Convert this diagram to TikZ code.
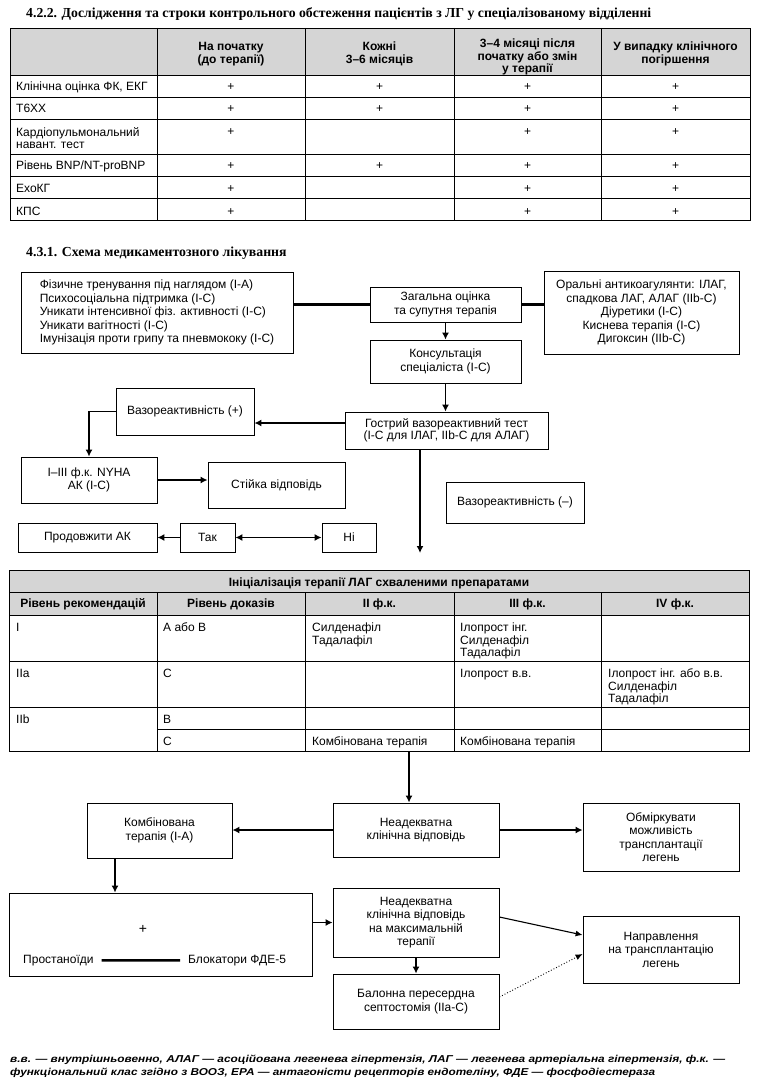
\documentclass[tikz,border=0pt]{standalone}
\usepackage{graphicx}
\usepackage{fontspec}
\setmainfont{Liberation Sans}
\newfontfamily\titlefont{Liberation Serif}
\usetikzlibrary{arrows.meta,calc}

\tikzset{
  tbl/.style={line width=0.8pt},
  hdr/.style={fill=gray!33},
  box/.style={draw, line width=0.8pt, align=center, inner sep=0pt,
    font=\fontsize{12}{13.5}\selectfont},
  cell/.style={inner sep=0pt, font=\fontsize{12}{12}\selectfont},
  hcell/.style={inner sep=0pt, font=\bfseries\fontsize{12}{12}\selectfont},
  ttl/.style={inner sep=0pt, anchor=base west, font=\titlefont\bfseries\fontsize{13.75}{16}\selectfont},
  arr/.style={line width=1.6pt, -{Latex[length=7pt,width=7pt]}},
  thinarr/.style={line width=1.1pt, -{Latex[length=7pt,width=6pt]}},
  dotarr/.style={line width=0.9pt, dotted, -{Latex[length=7pt,width=6pt]}},
  thickline/.style={line width=2.4pt},
  foot/.style={inner sep=0pt, anchor=base west, font=\bfseries\itshape\fontsize{10}{12}\selectfont},
}

\begin{document}
\begin{tikzpicture}[x=1pt,y=-1pt]
\useasboundingbox (0,0) rectangle (756,1086);

% ---------- Title 1 ----------
\node[ttl] (t1) at (26,17.3) {4.2.2. Дослідження та строки контрольного обстеження пацієнтів з ЛГ у спеціалізованому відділенні};

% ---------- Table 1 ----------
\fill[hdr] (10,28) rectangle (750,75);
\draw[tbl] (10,28) rectangle (750,220);
\foreach \y in {75,97,119,154,176,198} \draw[tbl] (10,\y) -- (750,\y);
\foreach \x in {157,305,454,601} \draw[tbl] (\x,28) -- (\x,220);

\node[hcell, anchor=north, align=center, font=\bfseries\fontsize{12}{13}\selectfont] (h1) at (231,40.9) {\strut На початку\\(до терапії)};
\node[hcell, anchor=north, align=center, font=\bfseries\fontsize{12}{13}\selectfont] (h2) at (379.5,40.9) {\strut Кожні\\3–6 місяців};
\node[hcell, anchor=north, align=center, font=\bfseries\fontsize{12}{11}\selectfont] (h3) at (527.5,38.3) {\strut 3–4 місяці після\\початку або змін\\у терапії};
\node[hcell, anchor=north, align=center, font=\bfseries\fontsize{12}{13}\selectfont] (h4) at (675.5,40.9) {\strut У випадку клінічного\\погіршення};

\node[cell, anchor=base west] (r1) at (16,91) {Клінічна оцінка ФК, ЕКГ};
\node[cell, anchor=base west] (r2) at (16,113) {Т6ХХ};
\node[cell, anchor=north west, align=left, font=\fontsize{12}{12.7}\selectfont] (r3) at (16,127.1) {\strut Кардіопульмональний\\навант. тест};
\node[cell, anchor=base west] (r4) at (16,170) {Рівень BNP/NT-proBNP};
\node[cell, anchor=base west] (r5) at (16,192.5) {ЕхоКГ};
\node[cell, anchor=base west] (r6) at (16,215) {КПС};

\foreach \x/\y [count=\i] in {231/91, 379.5/91, 527.5/91, 675.5/91,
  231/113, 379.5/113, 527.5/113, 675.5/113,
  231/136, 527.5/136, 675.5/136,
  231/170, 379.5/170, 527.5/170, 675.5/170,
  231/192.5, 527.5/192.5, 675.5/192.5,
  231/215, 527.5/215, 675.5/215}
  \node[cell, anchor=base] (p\i) at (\x,\y) {+};

% ---------- Title 2 ----------
\node[ttl, font=\titlefont\bfseries\fontsize{13.8}{16}\selectfont] (t2) at (26,256) {4.3.1. Схема медикаментозного лікування};

% ---------- Flowchart 1 ----------
\node[box, minimum width=272pt, minimum height=81pt, align=left] (A) at (157,312.5)
  {Фізичне тренування під наглядом (I-A)\\Психосоціальна підтримка (I-C)\\Уникати інтенсивної фіз. активності (I-C)\\Уникати вагітності (I-C)\\Імунізація проти грипу та пневмококу (I-C)};
\node[box, minimum width=151pt, minimum height=35pt] (B) at (445.5,304.5) {Загальна оцінка\\та супутня терапія};
\node[box, minimum width=195pt, minimum height=83pt] (C) at (641.5,312.5)
  {Оральні антикоагулянти: ІЛАГ,\\спадкова ЛАГ, АЛАГ (IIb-C)\\Діуретики (I-C)\\Киснева терапія (I-C)\\Дигоксин (IIb-C)};
\node[box, minimum width=151pt, minimum height=43pt] (D) at (445.5,361.5) {Консультація\\спеціаліста (I-C)};
\node[box, minimum width=203pt, minimum height=37pt, font=\fontsize{12}{12.5}\selectfont] (E) at (446.5,430.5) {Гострий вазореактивний тест\\(I-C для ІЛАГ, IIb-C для АЛАГ)};
\node[box, minimum width=138pt, minimum height=47pt] (F) at (185,411.5) {Вазореактивність (+)};
\node[box, minimum width=136pt, minimum height=46pt, font=\fontsize{12}{13}\selectfont] (G) at (89,480) {I–III ф.к. NYHA\\АК (I-C)};
\node[box, minimum width=137pt, minimum height=46pt] (H) at (276.5,485) {Стійка відповідь};
\node[box, minimum width=139pt, minimum height=29pt] (I) at (87.5,537.5) {Продовжити АК};
\node[box, minimum width=55pt, minimum height=29pt] (J) at (207.5,537.5) {Так};
\node[box, minimum width=54pt, minimum height=29pt] (K) at (349,537.5) {Ні};
\node[box, minimum width=138pt, minimum height=41pt] (L) at (515,502.5) {Вазореактивність (–)};

\draw[thickline] (B.west -| A.east) -- (B.west);
\draw[thickline] (B.east) -- (B.east -| C.west);
\draw[arr] (B.south) -- (D.north);
\draw[arr] (D.south) -- (D.south |- E.north);
\coordinate (ew) at ([yshift=7.5pt]E.west);
\draw[arr] (ew) -- (ew -| F.east);
\draw[arr] (F.west) -| (G.north);
\draw[arr] (G.east) -- (G.east -| H.west);
\draw[arr] (J.west) -- (I.east);
\draw[line width=1.6pt, {Latex[length=7pt,width=7pt]}-{Latex[length=7pt,width=7pt]}] (J.east) -- (K.west);
\coordinate (es) at (420,449);
\coordinate (tend) at (420,553);
\draw[arr] (es) -- (tend);

% ---------- Table 2 ----------
\fill[hdr] (9,570) rectangle (749,615);
\draw[tbl] (9,570) rectangle (749,751);
\foreach \y in {592,615,661,707} \draw[tbl] (9,\y) -- (749,\y);
\draw[tbl] (157,729) -- (749,729);
\foreach \x in {157,305,454,601} \draw[tbl] (\x,592) -- (\x,751);

\node[hcell, anchor=base] (ini) at (379,586) {Ініціалізація терапії ЛАГ схваленими препаратами};
\node[hcell, anchor=base] (c0) at (83,607) {Рівень рекомендацій};
\node[hcell, anchor=base] (c1) at (231,607) {Рівень доказів};
\node[hcell, anchor=base] (c2) at (379.5,607) {II ф.к.};
\node[hcell, anchor=base] (c3) at (527.5,607) {III ф.к.};
\node[hcell, anchor=base] (c4) at (675,607) {IV ф.к.};

\node[cell, anchor=base west] (a1) at (16,631) {I};
\node[cell, anchor=base west] (b1) at (163,631) {А або В};
\node[cell, anchor=north west, align=left] (d1) at (312,622.6) {\strut Силденафіл\\Тадалафіл};
\node[cell, anchor=north west, align=left] (e1) at (460,622.6) {\strut Ілопрост інг.\\Силденафіл\\Тадалафіл};

\node[cell, anchor=base west] (a2) at (16,677) {IIa};
\node[cell, anchor=base west] (b2) at (163,677) {C};
\node[cell, anchor=base west] (e2) at (460,677) {Ілопрост в.в.};
\node[cell, anchor=north west, align=left] (f2) at (608,668.6) {\strut Ілопрост інг. або в.в.\\Силденафіл\\Тадалафіл};

\node[cell, anchor=base west] (a3) at (16,723.5) {IIb};
\node[cell, anchor=base west] (b3) at (163,723.5) {B};
\node[cell, anchor=base west] (b4) at (163,745) {C};
\node[cell, anchor=base west] (d4) at (312,745) {Комбінована терапія};
\node[cell, anchor=base west] (e4) at (460,745) {Комбінована терапія};

% ---------- Flowchart 2 ----------
\node[box, minimum width=166pt, minimum height=54pt] (M) at (416,830) {Неадекватна\\клінічна відповідь};
\node[box, minimum width=145pt, minimum height=55pt] (N) at (159.5,830.5) {Комбінована\\терапія (I-A)};
\node[box, minimum width=156pt, minimum height=68pt] (O) at (661,837) {Обміркувати\\можливість\\трансплантації\\легень};
\node[box, minimum width=303pt, minimum height=83pt] (P) at (160.5,934.5) {};
\node[cell, anchor=center, font=\fontsize{14}{14}\selectfont] (plus) at (143,929) {+};
\node[cell, anchor=base west] (pr) at (23,963.3) {Простаноїди};
\node[cell, anchor=base west] (bl) at (188,963.3) {Блокатори ФДЕ-5};
\draw[thickline] ([xshift=8pt]pr.east) -- ([xshift=-8pt]bl.west);
\node[box, minimum width=166pt, minimum height=69pt] (Q) at (416,922.5) {Неадекватна\\клінічна відповідь\\на максимальній\\терапії};
\node[box, minimum width=166pt, minimum height=55pt] (R) at (416,1001.5) {Балонна пересердна\\септостомія (IIa-C)};
\node[box, minimum width=156pt, minimum height=67pt] (S) at (661,949.5) {Направлення\\на трансплантацію\\легень};

\coordinate (t2b) at (409,751);
\draw[arr] (t2b) -- (t2b |- M.north);
\draw[arr] (M.west) -- (M.west -| N.east);
\draw[arr] (M.east) -- (M.east -| O.west);
\draw[arr] ([xshift=-44.5pt]N.south) -- ([xshift=-44.5pt]N.south |- P.north);
\draw[arr] (Q.west -| P.east) -- (Q.west);
\draw[arr] (Q.south) -- (R.north);
\draw[thinarr] ([yshift=5.5pt]Q.east) -- ([yshift=14.5pt]S.west);
\draw[dotarr] ([yshift=4.5pt]R.east) -- ([yshift=-4.5pt]S.west);

% ---------- Footnote ----------
\node[foot] (f1) at (10,1062) {\resizebox{715pt}{\height}{в.в. — внутрішньовенно, АЛАГ — асоційована легенева гіпертензія, ЛАГ — легенева артеріальна гіпертензія, ф.к. —}};
\node[foot] (f2) at (10,1075) {\resizebox{645pt}{\height}{функціональний клас згідно з ВООЗ, ЕРА — антагоністи рецепторів ендотеліну, ФДЕ — фосфодіестераза}};
\end{tikzpicture}
\end{document}
